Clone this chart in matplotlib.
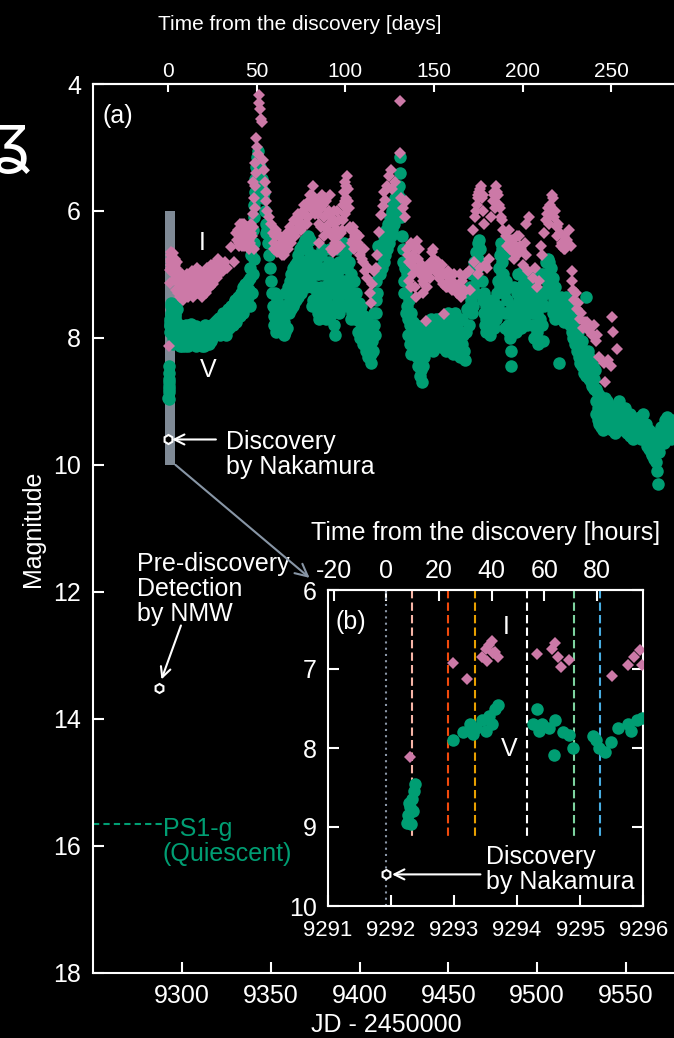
import numpy as np
import matplotlib.pyplot as plt
from matplotlib import font_manager
from matplotlib.patches import Rectangle

plt.rcParams['font.family'] = ['Liberation Sans', 'DejaVu Sans']
plt.rcParams['axes.unicode_minus'] = False

# 上方天数轴原图用窄体字；没有窄体时缩小字号
_names = {f.name for f in font_manager.fontManager.ttflist}
if 'Liberation Sans Narrow' in _names:
    NARROW = dict(fontfamily='Liberation Sans Narrow', fontsize=18)
else:
    NARROW = dict(fontfamily='Liberation Sans', fontsize=15)

# 发现时刻 JD - 2450000
t0 = 9291.93

# V band (JD-2450000, mag)
v_obs = [
    (9292.25, 8.95), (9292.28, 8.85), (9292.30, 8.75), (9292.33, 8.65), (9292.36, 8.55),
    (9292.38, 8.45), (9292.32, 8.96), (9292.35, 8.80), (9292.29, 8.70),
    (9292.98, 7.90), (9293.15, 7.80), (9293.25, 7.70), (9293.35, 7.75), (9293.45, 7.65),
    (9293.55, 7.60), (9293.65, 7.50), (9293.70, 7.45), (9293.30, 7.82), (9293.50, 7.78),
    (9293.60, 7.70),
    (9294.25, 7.70), (9294.31, 7.50), (9294.40, 7.70), (9294.50, 7.75), (9294.60, 7.65),
    (9294.72, 7.80), (9294.58, 8.09), (9294.83, 7.83), (9294.88, 8.00), (9294.35, 7.78),
    (9295.20, 7.85), (9295.30, 8.00), (9295.40, 8.05), (9295.49, 7.92), (9295.60, 7.75),
    (9295.75, 7.70), (9295.90, 7.65), (9295.98, 7.62), (9295.25, 7.90), (9295.80, 7.78),
    (9296.3, 7.45), (9297.0, 7.55), (9296.5, 7.75), (9296.8, 8.05), (9297.2, 7.85),
    (9297.5, 8.10), (9298.0, 7.90), (9298.5, 8.12), (9299.0, 7.80), (9299.5, 8.00),
    (9300.0, 8.12), (9300.5, 7.85), (9301.0, 8.05), (9301.5, 8.12), (9302.0, 7.80),
    (9302.5, 8.10), (9303.0, 7.95), (9303.5, 8.12), (9304.0, 7.90), (9304.5, 8.10),
    (9305.0, 7.78), (9305.5, 8.00), (9306.0, 8.10), (9306.5, 7.85), (9307.0, 8.05),
    (9307.5, 8.12), (9308.0, 7.82), (9308.5, 8.00), (9309.0, 8.10), (9309.5, 7.90),
    (9310.0, 8.10), (9310.5, 7.95), (9311.0, 8.12), (9311.5, 7.85), (9312.0, 8.05),
    (9312.5, 8.12), (9313.0, 7.80), (9313.5, 8.00), (9314.0, 8.10), (9314.5, 7.90),
    (9315.0, 8.10), (9315.5, 7.95), (9316.0, 8.05), (9316.5, 7.80), (9317.0, 8.00),
    (9317.5, 7.85), (9318.0, 7.95), (9318.5, 7.75), (9319.0, 7.90), (9319.5, 7.72),
    (9320.0, 7.85), (9320.5, 7.68), (9321.0, 7.80),
    (9321.5, 7.95), (9322.0, 7.70), (9323.0, 7.90), (9323.5, 7.65), (9324.0, 7.85),
    (9325.0, 7.60), (9325.5, 7.80), (9326.0, 7.55), (9327.0, 7.75), (9327.5, 7.50),
    (9328.0, 7.65), (9329.0, 7.45), (9329.5, 7.60), (9330.0, 7.40), (9331.0, 7.55),
    (9331.5, 7.35), (9332.0, 7.50), (9333.0, 7.30), (9333.5, 7.45), (9334.0, 7.20),
    (9335.0, 7.40), (9335.5, 7.15), (9336.0, 7.30), (9337.0, 7.10), (9337.5, 7.25),
    (9338.0, 7.05),
    (9338.5, 6.90), (9339.0, 6.70), (9339.5, 6.50), (9340.0, 6.30), (9340.3, 6.10),
    (9340.6, 5.90), (9341.0, 5.70), (9341.3, 5.50), (9341.6, 5.30), (9342.0, 5.15),
    (9342.5, 5.05), (9343.0, 5.20), (9343.5, 5.40), (9344.0, 5.30), (9344.5, 5.60),
    (9345.0, 5.50), (9345.5, 5.80), (9346.0, 5.70), (9346.5, 6.00), (9347.0, 6.20),
    (9347.3, 6.35), (9348.0, 6.30),
    (9348.5, 6.50), (9349.0, 6.70), (9349.5, 6.90), (9350.0, 7.10), (9350.5, 7.30),
    (9351.0, 7.50), (9351.5, 7.65), (9352.0, 7.80), (9352.5, 7.55), (9353.0, 7.90),
    (9353.5, 7.70), (9354.0, 7.85), (9355.0, 7.60), (9355.5, 7.80), (9356.0, 7.90),
    (9357.0, 7.50), (9357.5, 7.75), (9358.0, 7.30), (9358.5, 7.60), (9359.0, 7.85),
    (9359.5, 7.20), (9360.0, 7.45), (9360.5, 7.10), (9361.0, 7.35), (9361.5, 7.00),
    (9362.0, 7.30), (9362.5, 6.90), (9363.0, 7.20), (9363.5, 6.85), (9364.0, 7.40),
    (9364.5, 6.80), (9365.0, 7.10), (9365.5, 6.70), (9366.0, 7.00), (9366.5, 6.60),
    (9367.0, 7.30), (9367.5, 6.55), (9368.0, 6.90), (9368.5, 6.50), (9369.0, 6.80),
    (9369.5, 6.45), (9370.0, 7.20), (9370.5, 6.60), (9371.0, 6.40), (9371.5, 6.75),
    (9372.0, 6.45),
    (9372.5, 6.90), (9373.0, 7.20), (9373.5, 6.70), (9374.0, 7.40), (9374.5, 7.00),
    (9375.0, 7.50), (9375.5, 6.80), (9376.0, 7.30), (9376.5, 7.60), (9377.0, 7.00),
    (9377.5, 7.40), (9378.0, 6.70), (9378.5, 7.20), (9379.0, 6.60), (9379.5, 7.50),
    (9380.0, 6.90), (9380.5, 7.30), (9381.0, 7.70), (9381.5, 7.00), (9382.0, 7.50),
    (9382.5, 6.80), (9383.0, 7.20), (9383.5, 6.60), (9384.0, 7.60), (9384.5, 6.90),
    (9385.0, 7.30), (9385.5, 7.80), (9386.0, 7.95),
    (9387.0, 6.60), (9387.5, 7.00), (9388.0, 7.40), (9388.5, 6.80), (9389.0, 7.20),
    (9389.5, 6.55), (9390.0, 6.90), (9390.5, 7.30), (9391.0, 6.50), (9391.5, 7.10),
    (9392.0, 6.70), (9392.5, 7.50), (9393.0, 6.90), (9393.5, 7.20), (9394.0, 6.80),
    (9394.5, 7.40), (9395.0, 7.00), (9395.5, 7.60), (9396.0, 7.30), (9396.5, 7.50),
    (9397.0, 7.10), (9397.5, 7.70),
    (9398.0, 7.30), (9398.5, 7.60), (9399.0, 7.90), (9399.5, 7.45), (9400.0, 7.75),
    (9400.5, 8.00), (9401.0, 7.50), (9401.5, 7.85), (9402.0, 8.10), (9402.5, 7.65),
    (9403.0, 7.95), (9403.5, 8.20), (9404.0, 7.70), (9404.5, 8.00), (9405.0, 8.30),
    (9405.5, 7.80), (9406.0, 8.10), (9406.5, 8.40), (9407.0, 7.90), (9407.5, 8.20),
    (9408.0, 7.60), (9408.5, 7.95),
    (9409.0, 7.40), (9409.5, 7.10), (9410.0, 7.30), (9410.5, 6.55), (9411.0, 6.90),
    (9411.5, 7.00), (9412.0, 6.70), (9412.5, 6.90), (9413.0, 6.50), (9413.5, 6.80),
    (9414.0, 6.40), (9414.5, 6.70), (9415.0, 6.30), (9415.5, 6.60), (9416.0, 6.20),
    (9416.5, 6.50), (9417.0, 6.10), (9417.5, 6.40), (9418.0, 6.00), (9418.5, 6.30),
    (9419.0, 5.90), (9419.5, 6.20), (9420.0, 5.80), (9420.5, 6.10), (9421.0, 5.70),
    (9421.5, 6.00), (9422.0, 5.60), (9422.5, 5.40), (9422.8, 5.15), (9423.0, 5.80),
    (9423.5, 6.10),
    (9424.0, 6.40), (9424.5, 6.80), (9425.0, 7.10), (9425.5, 6.90), (9426.0, 7.30),
    (9426.5, 7.00), (9427.0, 7.50), (9427.5, 7.70), (9428.0, 7.40), (9428.5, 7.80),
    (9429.0, 7.60), (9429.5, 8.00), (9430.0, 7.75), (9430.5, 8.10), (9431.0, 7.90),
    (9431.5, 8.20), (9432.0, 7.80), (9432.5, 8.00), (9433.0, 8.30), (9433.5, 7.90),
    (9434.0, 8.15), (9434.5, 8.50), (9435.0, 8.70), (9435.5, 8.45), (9436.0, 8.10),
    (9436.5, 7.90), (9437.0, 8.20), (9437.5, 7.85), (9438.0, 8.05), (9438.5, 7.80),
    (9439.0, 8.10), (9439.5, 7.75), (9440.0, 8.00), (9440.5, 7.70), (9441.0, 7.90),
    (9441.5, 8.20), (9442.0, 7.75), (9442.5, 8.05), (9443.0, 7.70), (9443.5, 7.95),
    (9444.0, 7.80), (9444.5, 8.10), (9445.0, 7.70), (9445.5, 7.90), (9446.0, 8.15),
    (9446.5, 7.75), (9447.0, 8.00), (9447.5, 7.70), (9448.0, 7.90), (9448.5, 8.20),
    (9449.0, 7.80), (9449.5, 8.05), (9450.0, 7.60), (9450.5, 7.85), (9451.0, 8.10),
    (9451.5, 7.70), (9452.0, 7.95), (9452.5, 8.25), (9453.0, 7.80), (9453.5, 8.00),
    (9454.0, 7.60), (9454.5, 7.85), (9455.0, 8.15), (9455.5, 7.75), (9456.0, 8.00),
    (9456.5, 8.30), (9457.0, 7.90), (9457.5, 8.10), (9458.0, 7.70), (9458.5, 7.95),
    (9459.0, 8.20), (9459.5, 8.35), (9460.0, 7.90), (9460.5, 7.55), (9461.0, 7.30),
    (9461.5, 7.80),
    (9462.0, 7.50), (9462.5, 7.20), (9463.0, 7.40), (9463.5, 7.00), (9464.0, 7.20),
    (9464.5, 6.80), (9465.0, 7.00), (9465.5, 6.65), (9466.0, 6.90), (9466.5, 6.50),
    (9467.0, 6.75), (9467.5, 6.45), (9468.0, 6.60), (9468.5, 6.85), (9469.0, 7.10),
    (9469.5, 7.40),
    (9470.0, 7.60), (9470.5, 7.80), (9471.0, 7.50), (9471.5, 7.90), (9472.0, 7.65),
    (9472.5, 7.40), (9473.0, 7.70), (9473.5, 7.95), (9474.0, 7.55), (9474.5, 7.75),
    (9475.0, 7.40), (9475.5, 7.60), (9476.0, 7.85), (9476.5, 7.50), (9477.0, 7.70),
    (9477.5, 7.30), (9478.0, 7.10), (9478.5, 6.90), (9479.0, 6.70), (9479.5, 6.50),
    (9480.0, 6.60), (9480.5, 6.80),
    (9481.0, 7.00), (9481.5, 7.30), (9482.0, 7.60), (9482.5, 7.10), (9483.0, 7.40),
    (9483.5, 7.80), (9484.0, 7.20), (9484.5, 7.60), (9485.0, 8.00), (9485.3, 8.20),
    (9485.6, 8.45), (9486.0, 7.50), (9486.5, 7.80), (9487.0, 7.20), (9487.5, 7.60),
    (9488.0, 7.90), (9488.5, 7.30), (9489.0, 7.70), (9489.5, 7.00), (9490.0, 7.40),
    (9490.5, 7.75), (9491.0, 7.20), (9491.5, 7.55), (9492.0, 6.95), (9492.5, 7.30),
    (9493.0, 7.65), (9493.5, 7.10), (9494.0, 7.45), (9494.5, 7.80), (9495.0, 7.30),
    (9495.5, 7.60),
    (9496.0, 7.00), (9496.5, 7.40), (9497.0, 7.80), (9497.5, 7.20), (9498.0, 7.60),
    (9498.5, 8.00), (9499.0, 7.10), (9499.5, 7.50), (9500.0, 7.90), (9500.5, 8.10),
    (9501.0, 7.30), (9501.5, 7.70), (9502.0, 7.00), (9502.5, 7.40), (9503.0, 7.80),
    (9503.5, 8.05),
    (9504.0, 7.00), (9504.5, 7.30), (9505.0, 6.80), (9505.5, 7.10), (9506.0, 6.75),
    (9506.5, 7.00), (9507.0, 6.80), (9507.5, 7.15), (9508.0, 6.90), (9508.5, 7.30),
    (9509.0, 7.05), (9509.5, 7.40), (9510.0, 7.20), (9510.5, 7.50), (9511.0, 7.35),
    (9512.3, 8.40),
    (9511.5, 7.60), (9512.0, 7.40), (9513.0, 7.65), (9513.5, 7.35), (9514.0, 7.70),
    (9514.5, 7.40), (9515.0, 7.75), (9515.5, 7.45), (9516.0, 7.60), (9516.5, 7.35),
    (9517.0, 7.70), (9517.5, 7.50),
    (9518.0, 7.60), (9518.5, 7.80), (9519.0, 7.70), (9519.5, 7.90), (9520.0, 7.75),
    (9520.5, 8.00), (9521.0, 7.85), (9521.5, 8.10), (9522.0, 7.95), (9522.5, 8.20),
    (9523.0, 8.05), (9523.5, 8.30), (9524.0, 8.15), (9524.5, 8.40), (9525.0, 8.20),
    (9525.5, 8.45), (9526.0, 8.30), (9526.5, 8.55), (9527.0, 8.35), (9527.5, 8.60),
    (9527.5, 7.35), (9528.0, 8.40), (9528.5, 8.20), (9529.0, 8.50), (9529.5, 8.30),
    (9530.0, 8.55), (9530.5, 8.40), (9531.0, 8.60), (9531.5, 8.45), (9532.0, 8.65),
    (9532.5, 8.50),
    (9533.0, 8.80), (9533.5, 9.00), (9534.0, 8.85), (9534.5, 9.10), (9535.0, 8.90),
    (9535.5, 9.20), (9536.0, 8.95), (9536.5, 9.25), (9537.0, 9.00), (9537.5, 9.30),
    (9538.0, 9.05), (9538.5, 8.95), (9539.0, 9.15), (9539.5, 9.00), (9540.0, 9.20),
    (9540.5, 9.05), (9541.0, 9.25), (9541.5, 9.10), (9542.0, 9.30), (9542.5, 9.15),
    (9543.0, 9.35), (9543.5, 9.20), (9544.0, 9.40), (9544.5, 9.25), (9545.0, 9.10),
    (9545.5, 9.30),
    (9546.0, 9.15), (9546.5, 9.35), (9547.0, 9.20), (9547.5, 9.40), (9548.0, 9.25),
    (9548.5, 9.45), (9549.0, 9.30), (9549.5, 9.10), (9550.0, 9.35), (9550.5, 9.50),
    (9551.0, 9.30), (9551.5, 9.45), (9552.0, 9.35), (9552.5, 9.55), (9553.0, 9.40),
    (9553.5, 9.25), (9554.0, 9.45), (9554.5, 9.35), (9555.0, 9.50), (9555.5, 9.40),
    (9556.0, 9.55), (9556.5, 9.45), (9557.0, 9.30), (9557.5, 9.50), (9558.0, 9.40),
    (9558.5, 9.60), (9559.0, 9.45), (9559.5, 9.20), (9560.0, 9.55),
    (9560.5, 9.40), (9561.0, 9.60), (9561.5, 9.50), (9562.0, 9.70), (9562.5, 9.55),
    (9563.0, 9.75), (9563.5, 9.60), (9564.0, 9.80), (9564.5, 9.65), (9565.0, 9.85),
    (9565.5, 9.70), (9566.0, 9.90), (9566.5, 9.75), (9567.0, 9.95), (9567.5, 10.10),
    (9568.0, 10.30), (9568.5, 9.80), (9569.0, 9.60), (9569.5, 9.50), (9570.0, 9.40),
    (9570.5, 9.55), (9571.0, 9.45), (9572.0, 9.30), (9573.0, 9.50), (9574.0, 9.35),
    (9575.0, 9.45), (9576.0, 9.30), (9577.0, 9.40),
]

# 密集处补读的 V 点
v_fill = [
    (9322.5, 7.85), (9323.2, 7.60), (9324.5, 7.95), (9325.2, 7.70), (9326.5, 7.85),
    (9327.2, 7.60), (9328.5, 7.80), (9329.2, 7.55), (9330.5, 7.75), (9331.2, 7.50),
    (9332.5, 7.65), (9333.2, 7.40), (9334.5, 7.60), (9335.2, 7.30), (9336.5, 7.50),
    (9337.2, 7.35), (9338.2, 7.50), (9339.0, 7.30), (9339.5, 7.30), (9340.0, 7.00),
    (9340.2, 6.75), (9340.4, 6.50),
    (9352.2, 7.30), (9353.2, 7.40), (9354.5, 7.50), (9356.5, 7.70), (9357.2, 7.95),
    (9358.2, 7.90), (9360.2, 7.60), (9361.2, 7.55), (9362.2, 7.50), (9363.2, 7.45),
    (9364.2, 7.10), (9365.2, 7.35), (9366.2, 7.25), (9367.2, 6.80), (9368.2, 7.15),
    (9369.2, 7.00), (9370.2, 6.90), (9371.2, 7.05), (9372.2, 7.10),
    (9373.2, 7.50), (9374.2, 6.85), (9375.2, 7.20), (9376.2, 7.00), (9377.2, 7.70),
    (9378.2, 7.45), (9379.2, 7.00), (9380.2, 7.60), (9381.2, 7.40), (9382.2, 7.15),
    (9383.2, 7.65), (9384.2, 7.10), (9385.2, 7.50), (9388.2, 7.60), (9389.2, 7.45),
    (9390.2, 7.10), (9391.2, 6.80), (9392.2, 7.30), (9393.2, 6.60), (9394.2, 7.15),
    (9395.2, 7.70), (9396.2, 7.10), (9397.2, 7.40),
    (9398.2, 7.50), (9399.2, 7.70), (9400.2, 7.55), (9401.2, 7.70), (9402.2, 7.85),
    (9403.2, 7.75), (9404.2, 7.85), (9405.2, 8.00), (9406.2, 8.25), (9407.2, 8.05),
    (9408.2, 7.80), (9409.2, 7.60),
    (9424.2, 6.60), (9425.2, 7.30), (9426.2, 7.60), (9427.2, 7.95), (9428.2, 8.10),
    (9429.2, 8.25), (9430.2, 7.90), (9431.2, 8.05), (9432.2, 8.30), (9433.2, 8.45),
    (9434.2, 8.60), (9435.2, 8.30), (9436.2, 8.30), (9437.2, 8.00),
    (9463.2, 7.60), (9464.2, 7.50), (9465.2, 7.30), (9466.2, 7.10), (9470.2, 7.30),
    (9471.2, 7.70), (9472.2, 7.85), (9473.2, 7.50), (9474.2, 7.80), (9476.2, 7.65),
    (9478.2, 7.50), (9479.2, 7.20), (9480.2, 7.00), (9481.2, 6.70), (9482.2, 7.85),
    (9483.2, 7.60), (9484.2, 7.90), (9486.2, 7.65), (9487.2, 7.90), (9488.2, 7.50),
    (9489.2, 7.85), (9490.2, 7.55), (9491.2, 7.85), (9492.2, 7.15), (9493.2, 7.40),
    (9494.2, 7.60), (9495.2, 7.05), (9496.2, 7.55), (9497.2, 7.35), (9498.2, 7.80),
    (9499.2, 7.30), (9500.2, 7.60),
    (9504.2, 7.50), (9505.2, 7.30), (9506.2, 7.20), (9507.2, 7.30), (9508.2, 7.50),
    (9509.2, 7.60), (9510.2, 7.70), (9519.2, 7.55), (9520.2, 7.90), (9521.2, 7.70),
    (9522.2, 8.10), (9523.2, 7.90), (9524.2, 8.30), (9525.2, 8.05), (9526.2, 8.45),
    (9527.2, 8.20), (9528.2, 8.55), (9529.2, 8.65), (9530.2, 8.70), (9531.2, 8.75),
    (9532.2, 8.80),
    (9533.2, 9.20), (9534.2, 9.30), (9535.2, 9.35), (9536.2, 9.40), (9537.2, 9.45),
    (9540.2, 9.40), (9542.2, 9.45), (9544.2, 9.50), (9546.2, 9.00), (9548.2, 9.10),
    (9550.2, 9.20), (9552.2, 9.20), (9554.2, 9.60), (9556.2, 9.30), (9558.2, 9.25),
    (9561.2, 9.35), (9563.2, 9.45), (9565.2, 9.50), (9571.5, 9.65), (9573.5, 9.25),
    (9575.5, 9.60),
]

# I band (JD-2450000, mag)
i_obs = [
    (9292.31, 8.12), (9292.98, 6.93), (9293.21, 7.13),
    (9293.45, 6.85), (9293.50, 6.75), (9293.55, 6.70), (9293.60, 6.65), (9293.65, 6.78),
    (9293.70, 6.85), (9293.52, 6.90), (9293.62, 6.80),
    (9294.31, 6.81), (9294.56, 6.75), (9294.60, 6.67), (9294.65, 6.85), (9294.70, 6.97),
    (9294.83, 6.89), (9295.50, 7.09), (9295.75, 6.95), (9295.85, 6.85), (9295.95, 6.76),
    (9295.98, 6.95),
    (9296.5, 6.90), (9297.0, 7.10), (9297.5, 7.30), (9298.0, 7.00), (9298.5, 7.20),
    (9299.0, 7.35), (9299.5, 7.10), (9300.0, 7.25), (9300.5, 7.40), (9301.0, 7.15),
    (9301.5, 7.30), (9302.0, 7.05), (9302.5, 7.20), (9303.0, 7.35), (9303.5, 7.10),
    (9304.0, 7.25), (9305.0, 7.00), (9305.5, 7.20), (9306.0, 7.35), (9306.5, 7.05),
    (9307.0, 7.25), (9307.5, 6.95), (9308.0, 7.15), (9308.5, 6.90), (9309.0, 7.10),
    (9309.5, 7.25), (9310.0, 7.00), (9310.5, 7.20), (9311.0, 7.35), (9311.5, 7.10),
    (9312.0, 7.25), (9313.0, 7.00), (9313.5, 7.30), (9314.0, 7.10), (9314.5, 6.95),
    (9315.0, 7.15), (9315.5, 6.90), (9316.0, 7.05), (9316.5, 6.85), (9317.0, 7.00),
    (9317.5, 7.15), (9318.0, 6.85), (9318.5, 7.00), (9319.0, 6.80), (9319.5, 6.95),
    (9320.0, 6.75), (9320.5, 6.90),
    (9321.0, 7.00), (9322.0, 6.85), (9323.0, 6.95), (9324.0, 6.80), (9325.0, 6.90),
    (9327.5, 6.57), (9329.3, 6.80),
    (9331.0, 6.45), (9331.5, 6.30), (9332.0, 6.50), (9332.5, 6.20), (9333.0, 6.40),
    (9333.5, 6.55), (9334.0, 6.30), (9334.5, 6.45), (9335.0, 6.20), (9335.5, 6.35),
    (9336.0, 6.50), (9336.5, 6.25), (9337.0, 6.40), (9337.5, 6.60), (9338.0, 6.30),
    (9338.5, 6.50), (9339.0, 6.20), (9339.5, 6.40), (9340.0, 6.05), (9340.5, 6.60),
    (9340.0, 5.55), (9340.5, 5.80), (9341.0, 5.60), (9341.5, 5.40), (9341.2, 5.25),
    (9341.0, 5.95), (9341.5, 4.85), (9342.0, 5.00), (9342.5, 5.10),
    (9343.2, 4.30), (9343.5, 4.18), (9343.8, 4.40), (9344.5, 4.55), (9345.0, 4.60),
    (9345.5, 5.20), (9346.0, 5.35), (9346.5, 5.55), (9347.0, 5.70), (9347.5, 5.85),
    (9348.0, 6.00), (9349.0, 6.10), (9350.0, 6.20),
    (9351.0, 6.35), (9352.0, 6.50), (9353.0, 6.30), (9354.0, 6.55), (9355.0, 6.40),
    (9356.0, 6.70), (9357.0, 6.50), (9358.0, 6.60), (9359.0, 6.35), (9360.0, 6.50),
    (9361.0, 6.25), (9362.0, 6.40), (9363.0, 6.15), (9364.0, 6.30), (9365.0, 6.05),
    (9366.0, 6.20),
    (9367.0, 6.30), (9368.0, 6.00), (9369.0, 6.20), (9370.0, 5.90), (9371.0, 6.10),
    (9372.0, 5.75), (9373.0, 5.95), (9373.5, 5.60), (9374.0, 5.80), (9375.0, 6.05),
    (9376.0, 5.85), (9377.0, 6.20), (9378.0, 5.95), (9379.0, 5.75), (9380.0, 6.10),
    (9381.0, 5.85), (9382.0, 6.30), (9383.0, 6.00), (9377.0, 6.50), (9380.0, 6.40),
    (9384.0, 6.60),
    (9383.5, 5.75), (9384.0, 6.10), (9384.5, 6.40), (9385.0, 6.65), (9385.5, 6.20),
    (9386.0, 6.50), (9386.5, 6.30), (9387.0, 6.60), (9387.5, 6.00), (9388.0, 6.40),
    (9388.5, 6.15), (9389.0, 6.55), (9390.0, 6.30), (9390.5, 5.90), (9391.0, 5.70),
    (9391.5, 6.05), (9392.0, 5.55), (9392.5, 5.80), (9393.0, 5.45), (9393.5, 5.65),
    (9394.0, 5.95), (9394.5, 6.25),
    (9395.0, 6.30), (9396.0, 6.45), (9397.0, 6.60), (9398.0, 6.35), (9399.0, 6.50),
    (9400.0, 6.70), (9401.0, 6.60), (9402.0, 6.80), (9403.0, 6.95), (9404.0, 7.05),
    (9405.0, 6.90), (9406.0, 7.30), (9406.5, 7.45), (9407.0, 7.15), (9408.0, 6.95),
    (9409.0, 6.90), (9410.0, 6.70),
    (9411.0, 6.33), (9412.0, 6.07), (9413.0, 5.92), (9414.0, 5.70), (9414.5, 5.82),
    (9415.5, 5.60), (9416.5, 5.45), (9417.5, 5.35), (9418.0, 5.65), (9420.0, 5.55),
    (9422.5, 5.08), (9422.5, 4.27),
    (9423.5, 5.80), (9424.5, 5.95), (9425.5, 6.10), (9426.0, 5.85),
    (9427.0, 6.60), (9428.0, 6.80), (9429.0, 6.50), (9430.0, 6.70), (9431.0, 6.90),
    (9432.0, 6.60), (9432.5, 6.47), (9433.0, 6.75), (9434.0, 7.00), (9435.0, 6.85),
    (9435.5, 7.10), (9436.0, 7.30), (9437.0, 7.00), (9437.4, 7.74), (9438.0, 7.20),
    (9439.0, 6.95), (9440.0, 6.80), (9441.0, 6.65), (9441.5, 6.60), (9442.0, 6.75),
    (9443.0, 6.90), (9444.0, 6.80), (9445.0, 7.05), (9446.0, 6.95), (9447.0, 7.15),
    (9447.3, 7.63), (9448.0, 7.00), (9449.0, 7.20), (9450.0, 6.95), (9451.0, 7.10),
    (9452.0, 7.25), (9453.0, 7.00), (9454.0, 7.15), (9455.0, 7.30), (9456.0, 7.20),
    (9457.0, 7.35), (9458.0, 7.10), (9459.0, 7.25), (9460.0, 7.00), (9461.5, 6.95),
    (9462.0, 7.25),
    (9464.0, 6.30), (9465.0, 6.10), (9466.0, 5.90), (9467.0, 5.75), (9468.0, 5.65),
    (9468.5, 5.60), (9469.0, 5.80), (9469.5, 6.00), (9470.0, 6.20),
    (9464.5, 6.80), (9466.5, 7.00), (9468.0, 6.90), (9470.5, 6.85),
    (9472.0, 6.90), (9473.0, 6.75),
    (9474.0, 6.10), (9475.0, 5.85), (9476.0, 5.70), (9477.0, 5.60), (9478.0, 5.75),
    (9479.0, 5.95), (9480.0, 6.15), (9481.0, 6.30),
    (9482.5, 6.40), (9483.0, 6.55), (9484.0, 6.30), (9485.0, 6.60), (9486.0, 6.45),
    (9487.0, 6.75), (9488.0, 6.55), (9489.0, 6.70), (9490.0, 6.40), (9491.0, 6.60),
    (9492.0, 6.85), (9493.0, 6.50), (9494.0, 6.70), (9495.0, 6.95), (9494.0, 6.20),
    (9495.5, 6.10),
    (9498.0, 7.05), (9499.0, 6.90), (9500.0, 7.20), (9501.0, 7.10), (9502.0, 6.55),
    (9503.0, 6.70),
    (9504.0, 6.35), (9505.0, 6.15), (9506.0, 5.95), (9507.5, 5.90), (9508.5, 5.75),
    (9509.0, 5.80), (9510.0, 6.00), (9511.0, 6.25), (9512.0, 6.20), (9513.0, 6.35),
    (9514.0, 6.50), (9515.0, 6.40), (9516.0, 6.60), (9517.0, 6.45), (9518.0, 6.30),
    (9519.0, 6.55),
    (9519.5, 6.95), (9520.0, 7.10), (9520.5, 7.25), (9521.0, 7.40), (9522.0, 7.30),
    (9522.5, 7.55), (9523.0, 7.45), (9524.0, 7.70), (9525.0, 7.60), (9526.0, 7.85),
    (9527.0, 7.75), (9528.0, 7.75), (9529.0, 7.85), (9530.0, 7.90),
    (9531.0, 7.95), (9532.0, 7.80), (9533.0, 8.05), (9534.0, 7.95), (9535.0, 8.30),
    (9537.5, 8.40), (9538.5, 8.70), (9540.0, 8.35), (9541.5, 8.45), (9542.0, 7.67),
    (9543.0, 7.91), (9545.0, 8.18),
]

# 密集处补读的 I 点
i_fill = [
    (9296.4, 7.25), (9296.8, 6.80), (9297.8, 6.95), (9298.8, 7.10), (9299.8, 7.00),
    (9300.8, 7.10), (9301.8, 7.35), (9302.8, 7.00), (9303.8, 7.30), (9304.8, 7.15),
    (9305.8, 6.95), (9306.8, 7.30), (9307.8, 7.05), (9308.8, 7.30), (9309.8, 6.95),
    (9310.8, 7.10), (9312.5, 7.00), (9313.8, 6.90), (9315.8, 7.20), (9316.8, 6.95),
    (9318.8, 6.90), (9319.8, 7.05),
    (9330.5, 6.35), (9331.8, 6.55), (9332.8, 6.35), (9333.8, 6.20), (9334.8, 6.55),
    (9335.8, 6.40), (9336.8, 6.30), (9337.8, 6.45), (9338.8, 6.35), (9339.8, 6.25),
    (9351.5, 6.60), (9352.5, 6.40), (9353.5, 6.65), (9354.5, 6.40), (9355.5, 6.60),
    (9356.5, 6.50), (9357.5, 6.70), (9358.5, 6.45), (9359.5, 6.60), (9360.5, 6.35),
    (9361.5, 6.50), (9362.5, 6.30), (9363.5, 6.40), (9364.5, 6.15), (9365.5, 6.30),
    (9366.5, 6.10), (9367.5, 6.20), (9368.5, 5.90), (9369.5, 6.05), (9370.5, 6.20),
    (9371.5, 5.85), (9372.5, 5.95), (9373.2, 5.75), (9374.5, 5.95), (9375.5, 5.90),
    (9376.5, 6.05), (9377.5, 5.85), (9378.5, 6.25), (9379.5, 5.90), (9380.5, 5.80),
    (9381.5, 6.05), (9382.5, 6.20), (9383.5, 6.35), (9385.5, 6.00), (9386.5, 6.55),
    (9387.5, 6.30), (9389.5, 6.35), (9390.5, 6.15), (9391.5, 5.85), (9392.5, 5.60),
    (9393.5, 5.85),
    (9395.5, 6.50), (9396.5, 6.25), (9397.5, 6.40), (9398.5, 6.55), (9399.5, 6.40),
    (9400.5, 6.55), (9401.5, 6.75), (9402.5, 6.60),
    (9427.5, 6.70), (9428.5, 6.55), (9429.5, 6.85), (9430.5, 6.55), (9431.5, 6.75),
    (9433.5, 6.60), (9434.5, 6.85), (9435.8, 6.95), (9436.5, 7.15), (9437.5, 7.05),
    (9438.5, 6.85), (9439.5, 7.05), (9428.0, 7.10), (9429.0, 7.20), (9430.0, 7.00),
    (9431.0, 7.20), (9432.0, 7.35),
    (9442.5, 6.95), (9444.5, 7.00), (9446.5, 6.85), (9448.5, 7.20), (9450.5, 7.05),
    (9452.5, 7.15), (9454.5, 7.25), (9456.5, 7.00), (9458.5, 7.30),
    (9465.5, 6.00), (9466.5, 5.80), (9467.5, 5.70), (9469.5, 5.75), (9475.5, 5.75),
    (9476.5, 5.95), (9477.5, 5.70), (9478.5, 5.90), (9479.5, 6.10),
    (9484.5, 6.50), (9486.5, 6.65), (9488.5, 6.40), (9490.5, 6.55), (9505.5, 6.05),
    (9506.5, 6.20), (9509.5, 6.10), (9511.5, 6.40), (9513.5, 6.55), (9515.5, 6.60),
]

discovery = (9291.93, 9.6)       # Nakamura
nmw = (9287.0, 13.52)            # pre-discovery, NMW
ps1_g = 15.66                    # quiescent PS1-g
spec_jd = [9292.33, 9292.905, 9293.33, 9294.15, 9294.90, 9295.32]
spec_colors = ['#f6b5a6', '#f24a0c', '#e8a000', 'white', '#7ed3a0', '#48ade2']
day_ticks = [0, 50, 100, 150, 200, 250]
hour_ticks = [-20, 0, 20, 40, 60, 80]
jd_ticks = [9300, 9350, 9400, 9450, 9500, 9550]
jd_ticks_b = [9291, 9292, 9293, 9294, 9295, 9296]

GREEN = '#009E73'
PINK = '#CC79A7'
GREY = '#7f8a96'
MS_V, MS_I = 9.0, 6.2

v = np.array(v_obs + v_fill)
i = np.array(i_obs + i_fill)

W, H = 674, 1038
fig = plt.figure(figsize=(W / 100, H / 100), dpi=100, facecolor='black')


def px_box(x0, y0, x1, y1):
    return [x0 / W, 1 - y1 / H, (x1 - x0) / W, (y1 - y0) / H]


def style(a):
    a.set_facecolor('black')
    for s in a.spines.values():
        s.set_color('white')
        s.set_linewidth(1.5)
    a.tick_params(direction='in', colors='white', width=1.5, labelsize=18)


arrow = dict(arrowstyle='->', color='white', lw=1.5, mutation_scale=18,
             shrinkA=0, shrinkB=0)

# ---- (a) 全部光变曲线
ax = fig.add_axes(px_box(93.5, 84, 93.5 + 330 * 1.774, 972.7))
style(ax)
ax.spines['right'].set_visible(False)
ax.set_xlim(9250, 9580)
ax.set_ylim(18, 4)
ax.set_xticks(jd_ticks)
ax.set_yticks(range(4, 19, 2))
ax.tick_params(axis='x', length=8, pad=8, top=False)
ax.tick_params(axis='y', length=8, pad=9, right=False)
ax.set_xlabel('JD - 2450000', color='white', fontsize=18, labelpad=4)
ax.set_ylabel('Magnitude', color='white', fontsize=18, labelpad=6)

ax.add_patch(Rectangle((9290.2, 6), 6.0, 4, color=GREY, lw=0, zorder=1))
ax.plot(v[:, 0], v[:, 1], 'o', color=GREEN, ms=MS_V, mew=0, zorder=3)
ax.plot(i[:, 0], i[:, 1], 'D', color=PINK, ms=MS_I, mew=0, zorder=4)

ax.plot(*discovery, 'h', ms=6.5, mfc='black', mec='white', mew=1.5, zorder=6)
ax.plot(*nmw, 'h', ms=6.5, mfc='black', mec='white', mew=1.5, zorder=6)
ax.plot([9250, 9288.5], [ps1_g, ps1_g], color=GREEN, lw=1.5, ls=(0, (3, 2)))

ax.annotate('', xy=(9294.3, 9.6), xytext=(9319.0, 9.6), arrowprops=arrow)
ax.text(9324.8, 9.83, 'Discovery\nby Nakamura', color='white', fontsize=18,
        va='center', ha='left', linespacing=1.05)
ax.annotate('', xy=(9288.3, 13.38), xytext=(9299.3, 12.53), arrowprops=arrow)
ax.text(9274.3, 11.95, 'Pre-discovery\nDetection\nby NMW', color='white',
        fontsize=18, va='center', ha='left', linespacing=1.05)
ax.text(9288.9, 15.94, 'PS1-g\n(Quiescent)', color=GREEN, fontsize=18,
        va='center', ha='left', linespacing=1.05)
ax.annotate('', xy=(9371.8, 11.78), xytext=(9296.2, 10.0),
            arrowprops=dict(arrow, color='#8896a6', mutation_scale=22))
ax.text(9311.0, 6.51, 'I', color='white', fontsize=18, ha='center', va='center')
ax.text(9314.5, 8.51, 'V', color='white', fontsize=18, ha='center', va='center')
ax.text(9255.0, 4.5, '(a)', color='white', fontsize=18, ha='left', va='center')

top = ax.secondary_xaxis('top', functions=(lambda x: x - t0, lambda d: d + t0))
top.set_xticks(day_ticks, labels=[str(d) for d in day_ticks], **NARROW)
top.tick_params(direction='in', length=6, width=1.5, colors='white', pad=2)
top.spines['top'].set_color('white')
top.spines['top'].set_linewidth(1.5)
fig.text(300 / W, 1 - 24 / H, 'Time from the discovery [days]', color='white',
         ha='center', va='center', **NARROW)

# ---- (b) 发现后数天
ax2 = fig.add_axes(px_box(327.7, 590, 643.3, 906))
style(ax2)
ax2.set_xlim(9291, 9296)
ax2.set_ylim(10, 6)
ax2.set_xticks(jd_ticks_b)
ax2.set_yticks([6, 7, 8, 9, 10])
ax2.tick_params(axis='x', length=8, pad=10, labelsize=16, top=False)
ax2.tick_params(axis='y', length=8, pad=8, right=True)

ax2.axvline(t0, color='#8a96a6', lw=1.5, ls=(0, (1, 2)), zorder=2)
ax2.vlines(spec_jd, 6, 9.15, colors=spec_colors, lw=1.5, linestyles=(0, (4, 2)), zorder=2)
ax2.plot(v[:, 0], v[:, 1], 'o', color=GREEN, ms=MS_V, mew=0, zorder=3)
ax2.plot(i[:, 0], i[:, 1], 'D', color=PINK, ms=MS_I, mew=0, zorder=4)
ax2.plot(*discovery, 'h', ms=6.5, mfc='black', mec='white', mew=1.5, zorder=6)
ax2.annotate('', xy=(9292.02, 9.6), xytext=(9293.42, 9.6), arrowprops=arrow)
ax2.text(9293.5, 9.54, 'Discovery\nby Nakamura', color='white', fontsize=18,
         va='center', ha='left', linespacing=1.05)
ax2.text(9293.83, 6.47, 'I', color='white', fontsize=18, ha='center', va='center')
ax2.text(9293.88, 8.01, 'V', color='white', fontsize=18, ha='center', va='center')
ax2.text(9291.13, 6.4, '(b)', color='white', fontsize=18, ha='left', va='center')

top2 = ax2.secondary_xaxis('top', functions=(lambda x: (x - t0) * 24,
                                             lambda h: h / 24 + t0))
top2.set_xticks(hour_ticks)
top2.tick_params(direction='in', length=8, width=1.5, colors='white',
                 labelsize=18, pad=5)
top2.spines['top'].set_color('white')
top2.spines['top'].set_linewidth(1.5)
top2.set_xlabel('Time from the discovery [hours]', color='white', fontsize=18,
                labelpad=14)

# 左上角截断的字符
fig.text(-0.006, 1 - 142 / H, 'ʓ', color='white', fontsize=46,
         fontfamily=['Noto Sans', 'DejaVu Sans'], va='center', ha='left')

fig.savefig('out.png', dpi=100, facecolor='black')
